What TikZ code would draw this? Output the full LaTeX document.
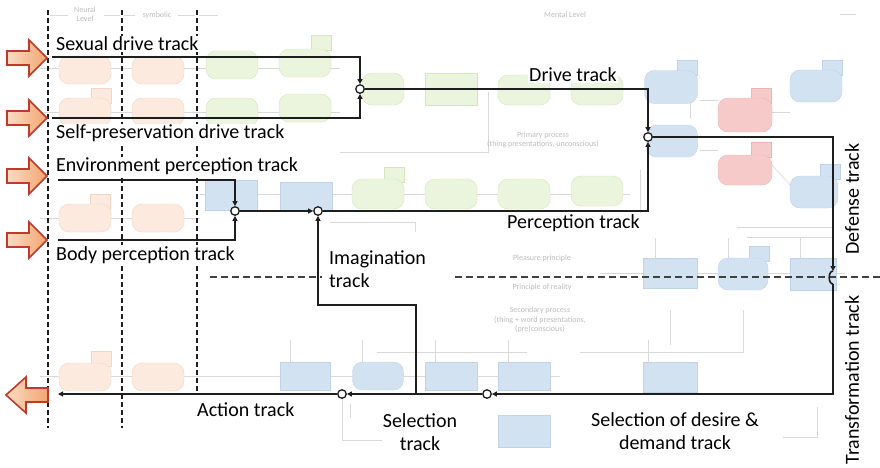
\documentclass[tikz,border=0pt]{standalone}
\usepackage{fontspec}
\setmainfont{Carlito}
\usetikzlibrary{arrows.meta,calc}
\definecolor{oF}{HTML}{FCEADE}
\definecolor{oD}{HTML}{F5D6C2}
\definecolor{gF}{HTML}{EBF5DE}
\definecolor{gD}{HTML}{D3E8BA}
\definecolor{bF}{HTML}{D2E2F1}
\definecolor{bD}{HTML}{BFD4EA}
\definecolor{rF}{HTML}{F7CACA}
\definecolor{rD}{HTML}{EEB3B3}
\definecolor{faintc}{HTML}{D9D9D9}
\definecolor{fainttxt}{HTML}{BDBDBD}
\definecolor{trk}{HTML}{1E1E1E}
\definecolor{arrL}{HTML}{FBDCC3}
\definecolor{arrR}{HTML}{F2A571}
\definecolor{arrB}{HTML}{C0392B}
\begin{document}
\begin{tikzpicture}[x=1pt,y=-1pt,
  pillbase/.style={rectangle,rounded corners=10pt,inner sep=0pt,minimum width=52pt,minimum height=28pt},
  rectbase/.style={rectangle,inner sep=0pt,minimum width=52pt,minimum height=28pt},
  opill/.style={pillbase,fill=oF,draw=oD},
  gpill/.style={pillbase,fill=gF,draw=gD},
  grect/.style={rectbase,fill=gF,draw=gD},
  bpill/.style={pillbase,fill=bF,draw=bD},
  brect/.style={rectbase,fill=bF,draw=bD},
  rpill/.style={pillbase,fill=rF,draw=rD},
  otab/.style={rectangle,inner sep=0pt,minimum width=20pt,minimum height=15pt,fill=oF,draw=oD,line width=1pt},
  gtab/.style={otab,fill=gF,draw=gD},
  btab/.style={otab,fill=bF,draw=bD},
  rtab/.style={otab,fill=rF,draw=rD},
  faint/.style={draw=faintc,line width=0.6pt},
  ftxt/.style={text=fainttxt,font=\fontsize{8}{9.5}\selectfont,inner sep=0pt,align=center},
  vdash/.style={draw=trk,line width=1.3pt,dash pattern=on 5pt off 3pt},
  hdash/.style={draw=trk!85,line width=1.5pt,dash pattern=on 7pt off 4pt},
  track/.style={draw=trk,line width=1.6pt},
  tip/.style={-{Triangle[length=5pt,width=5pt]}},
  junc/.style={circle,draw=trk,fill=white,line width=1.3pt,minimum size=8.5pt,inner sep=0pt},
  lbl/.style={fill=white,inner sep=1pt,font=\fontsize{20}{23.5}\selectfont,text=black},
  blockarrow/.style={draw=arrB,line width=1.6pt,left color=arrL,right color=arrR,line join=miter}
]
\useasboundingbox (0,0) rectangle (880,467);
\fill[white] (0,0) rectangle (880,467);

% ---------- faded background diagram ----------
\draw[faint] (40,68) -- (340,68);
\draw[faint] (40,112) -- (340,112);
\draw[faint] (40,218) -- (200,218);
\draw[faint] (200,194) -- (630,194);
\draw[faint] (40,376) -- (560,376);
\draw[faint] (600,273) -- (845,273);
\draw[faint] (340,152) -- (488,152) -- (488,92);
\draw[faint] (330,222) -- (415,222) -- (415,232);
\draw[faint] (655,238) -- (655,258);
\draw[faint] (728,238) -- (728,258);
\draw[faint] (800,238) -- (800,258);
\draw[faint] (737,227) -- (833,227);
\draw[faint] (747,237) -- (833,237);
\draw[faint] (290,340) -- (290,362);
\draw[faint] (362,340) -- (362,362);
\draw[faint] (435,340) -- (435,362);
\draw[faint] (508,340) -- (508,362);
\draw[faint] (377,352) -- (527,352);
\draw[faint] (580,352) -- (743,352) -- (743,310);
\draw[faint] (648,340) -- (648,362);
\draw[faint] (670,310) -- (670,345);
\draw[faint] (817,407) -- (817,437) -- (783,437);
\draw[faint] (342,398) -- (342,440) -- (420,440);
\draw[faint] (350,404) -- (350,418);
\draw[faint] (690,98) -- (690,118);
\draw[faint] (700,100) -- (718,100);
\draw[faint] (700,150) -- (718,150);
\draw[faint] (772,112) -- (790,112);
\draw[faint] (772,165) -- (790,185);
\draw[faint] (600,215) -- (640,215) -- (640,170);
\draw[faint] (50,15) -- (68,15);
\draw[faint] (104,15) -- (120,15);
\draw[faint] (124,15) -- (135,15);
\draw[faint] (178,15) -- (195,15);
\draw[faint] (199,15) -- (218,15);
\draw[faint] (840,14) -- (856,14);

% orange (neural / symbolic level)
\node[opill] (o1) at (85,70) {};
\node[opill] (o2) at (158,70) {};
\node[otab]  (o3t) at (101,96) {};
\node[opill] (o3) at (85,112) {};
\node[opill] (o4) at (158,112) {};
\node[otab]  (o5t) at (100,202) {};
\node[opill] (o5) at (85,218) {};
\node[opill] (o6) at (158,218) {};
\node[otab]  (o7t) at (101,359) {};
\node[opill] (o7) at (85,377) {};
\node[opill] (o8) at (158,377) {};

% green
\node[gpill] (g1) at (232,65) {};
\node[gtab]  (g2t) at (321,43) {};
\node[gpill] (g2) at (305,63) {};
\node[gpill] (g3) at (232,112) {};
\node[gpill] (g4) at (305,108) {};
\node[gpill,minimum width=42pt,minimum height=32pt] (g5) at (383,89) {};
\node[grect,minimum height=32pt] (g6) at (451,89) {};
\node[gpill,minimum height=30pt] (g7) at (524,90) {};
\node[gpill,minimum height=30pt] (g8) at (597,90) {};
\node[gtab]  (g9t) at (394,175) {};
\node[gpill,minimum height=30pt] (g9) at (378,194) {};
\node[gpill,minimum height=30pt] (g10) at (451,194) {};
\node[gpill,minimum height=30pt] (g11) at (524,194) {};
\node[gpill,minimum height=30pt] (g12) at (597,191) {};

% blue and red
\node[brect,minimum height=30pt] (b1) at (231,195) {};
\node[brect] (b2) at (306,196) {};
\node[btab]  (b3t) at (687,68) {};
\node[bpill,minimum width=53pt,minimum height=33pt] (b3) at (671,87) {};
\node[bpill,minimum width=51pt,minimum height=32pt] (b4) at (672,141) {};
\node[rtab]  (r1t) at (761,96) {};
\node[rpill,minimum width=54pt,minimum height=34pt] (r1) at (745,115) {};
\node[rtab]  (r2t) at (761,150) {};
\node[rpill,minimum width=54pt,minimum height=30pt] (r2) at (745,170) {};
\node[btab]  (b5t) at (832,68) {};
\node[bpill,minimum height=32pt] (b5) at (816,86) {};
\node[btab]  (b6t) at (830,172) {};
\node[bpill,minimum width=48pt,minimum height=32pt] (b6) at (814,192) {};
\node[brect,minimum width=54pt,minimum height=30pt] (b7) at (670,273) {};
\node[btab]  (b8t) at (759,254) {};
\node[bpill,minimum width=50pt,minimum height=32pt] (b8) at (743,274) {};
\node[brect,minimum width=46pt,minimum height=32pt] (b9) at (813,274) {};
\node[brect,minimum width=50pt] (b10) at (305,376) {};
\node[bpill,minimum width=51pt] (b11) at (378,376) {};
\node[brect] (b12) at (451,376) {};
\node[brect] (b13) at (524,376) {};
\node[brect,minimum height=32pt] (b14) at (524,431) {};
\node[brect,minimum width=54pt,minimum height=30pt] (b15) at (670,377) {};

% faded texts
\node[ftxt] (tneural) at (85,14) {Neural\\Level};
\node[ftxt] (tsymb) at (157,15) {symbolic};
\node[ftxt] (tmental) at (565,15) {Mental Level};
\node[ftxt] (tprim) at (543,140) {Primary process\\(thing presentations, unconscious)};
\node[ftxt] (tpleas) at (542,258) {Pleasure principle};
\node[ftxt] (treal) at (542,287) {Principle of reality};
\node[ftxt] (tsec) at (540,320) {Secondary process\\(thing + word presentations,\\(pre)conscious)};

% ---------- dashed borders ----------
\coordinate (v1t) at (48,10);  \coordinate (v1b) at (48,428);
\coordinate (v2t) at (122,10); \coordinate (v2b) at (122,428);
\coordinate (v3t) at (197,10); \coordinate (v3b) at (197,392);
\draw[vdash] (v1t) -- (v1b);
\draw[vdash] (v2t) -- (v2b);
\draw[vdash] (v3t) -- (v3b);
\coordinate (h1a) at (210,277); \coordinate (h1b) at (322,277);
\coordinate (h2a) at (455,277); \coordinate (h2b) at (880,277);
\draw[hdash] (h1a) -- (h1b);
\draw[hdash] (h2a) -- (h2b);

% ---------- block arrows ----------
\foreach \cy in {58,118,176,240}{
  \draw[blockarrow] (7,\cy-7) -- (29,\cy-7) -- (29,\cy-18) -- (47,\cy) -- (29,\cy+18) -- (29,\cy+7) -- (7,\cy+7) -- cycle;
}
\draw[blockarrow] (48,388) -- (26,388) -- (26,377) -- (6,395) -- (26,413) -- (26,402) -- (48,402) -- cycle;

% ---------- tracks ----------
\node[junc] (j1) at (360,89) {};
\node[junc] (j2) at (648,137) {};
\node[junc] (j3) at (235,211) {};
\node[junc] (j4) at (318,211) {};
\node[junc] (j6) at (487,394) {};
\node[junc] (j7) at (342,394) {};
\coordinate (j5a) at (833,271);
\coordinate (j5b) at (833,284);
\coordinate (s1) at (52,57);
\coordinate (s2) at (52,118);
\coordinate (s3) at (58,180);
\coordinate (s4) at (58,240);
\coordinate (c1) at (416,394);
\coordinate (c2) at (416,305);
\coordinate (aend) at (58,394);

\draw[track,tip] (s1) -| (j1);
\draw[track,tip] (s2) -| (j1);
\draw[track,tip] (j1) -| (j2);
\draw[track,tip] (s3) -| (j3);
\draw[track,tip] (s4) -| (j3);
\draw[track,tip] (j3) -- (j4);
\draw[track,tip] (j4) -| (j2);
\draw[track,tip] (c1) -- (c2) -| (j4);
\draw[track,tip] (j2) -| (j5a);
\draw[track] (j5a) to[out=180,in=180] (j5b);
\draw[track,tip] (j5b) |- (j6);
\draw[track,tip] (j6) -- (j7);
\draw[track,tip] (j7) -- (aend);

% ---------- labels ----------
\node[lbl,anchor=west] (l1) at (55,44) {Sexual drive track};
\node[lbl,anchor=west] (l2) at (55,133.5) {Self-preservation drive track};
\node[lbl,anchor=west] (l3) at (55,166.5) {Environment perception track};
\node[lbl,anchor=west] (l4) at (55,255) {Body perception track};
\node[lbl,anchor=west] (l5) at (528,75) {Drive track};
\node[lbl,anchor=west] (l6) at (506,223) {Perception track};
\node[lbl,anchor=west,align=left] (l7) at (328,269) {Imagination\\track};
\node[lbl,anchor=west] (l8) at (196,410) {Action track};
\node[lbl,align=center] (l9) at (420,432) {Selection\\track};
\node[lbl,align=center] (l10) at (675,431) {Selection of desire \&\\demand track};
\node[lbl,rotate=90] (l11) at (852,199) {Defense track};
\node[lbl,rotate=90] (l12) at (852,380) {Transformation track};
\end{tikzpicture}
\end{document}
